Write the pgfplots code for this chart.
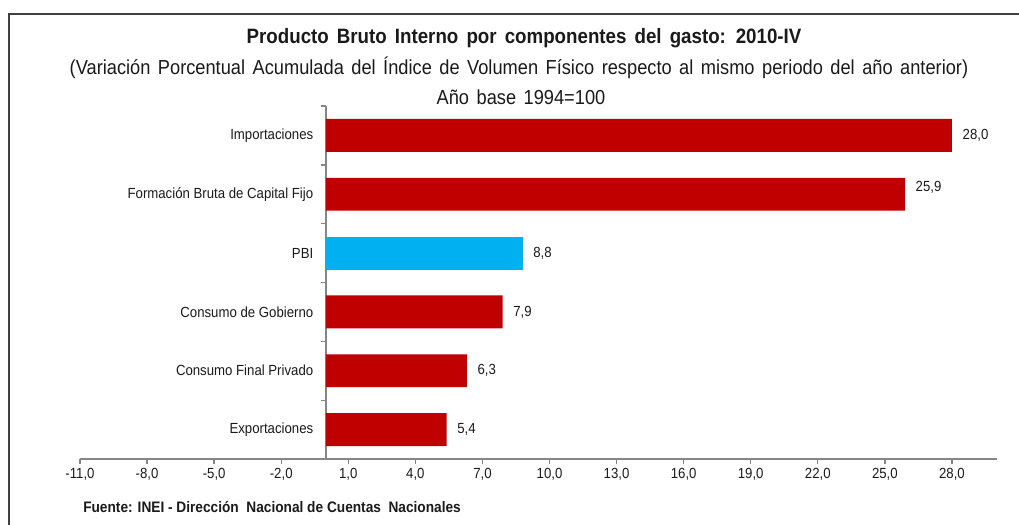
\documentclass[border=0pt]{standalone}
\usepackage{pgfplots}
\pgfplotsset{compat=1.18}
\usepackage{pgfplotstable}
\usepackage{fontspec}
\setmainfont{Liberation Sans}[FakeStretch=0.9]
\definecolor{barred}{HTML}{C00000}
\definecolor{barblue}{HTML}{00B0F0}
\definecolor{axisgray}{HTML}{868686}
\definecolor{txt}{HTML}{1A1A1A}

% posicion  valor  desplazamiento de etiqueta (pt)
\pgfplotstableread{
pos val dy
0 5.4 0
1 6.3 0
2 7.9 0
4 25.9 5.25
5 28.0 0
}\redbars
\pgfplotstableread{
pos val dy
3 8.8 0
}\bluebars

\begin{document}
\begin{tikzpicture}
\useasboundingbox (0,0) rectangle (764.25pt,393pt);
% marco
\draw[black!75, line width=1pt] (6.75pt,-5pt) -- (6.75pt,382.5pt) -- (770pt,382.5pt);

\begin{axis}[
    at={(60pt,48.75pt)}, anchor=south west,
    width=687.5pt, height=264.75pt, scale only axis,
    xbar, bar width=0.56, bar shift=0pt,
    xmin=-11, xmax=30, ymin=-0.5, ymax=5.5,
    axis x line=bottom, axis y line=middle,
    axis line style={axisgray, line width=1pt, -},
    tick style={axisgray, line width=1pt},
    tick align=outside,
    major tick length=3.75pt, minor tick length=3.75pt,
    xtick={-11,-8,...,28},
    ytick={0,...,5},
    minor ytick={-0.5,0.5,...,5.5},
    major y tick style={draw=none},
    yticklabels={Exportaciones, Consumo Final Privado, Consumo de Gobierno, PBI, Formación Bruta de Capital Fijo, Importaciones},
    yticklabel style={xshift=-2.25pt},
    hide obscured y ticks=false,
    /pgf/number format/.cd, fixed, fixed zerofill, precision=1, use comma, assume math mode=true,
    /pgfplots/.cd,
    tick label style={font=\fontsize{11}{13}\selectfont, text=txt},
    point meta=x,
    nodes near coords={\pgfmathprintnumber[fixed,fixed zerofill,precision=1,use comma,assume math mode=true]{\pgfplotspointmeta}},
    visualization depends on={\thisrow{dy} \as \dy},
    nodes near coords style={anchor=west, xshift=4.5pt, yshift=\dy pt, font=\fontsize{11}{13}\selectfont, text=txt},
    clip=false,
]
\addplot[fill=barred, draw=none] table[x=val, y=pos] {\redbars};
\addplot[fill=barblue, draw=none] table[x=val, y=pos] {\bluebars};
\end{axis}

\node[font=\bfseries\fontsize{15.6}{18}\selectfont, text=txt] at (393pt,364.5pt) {\spaceskip=0.39em Producto Bruto Interno por componentes del gasto: 2010-IV};
\node[font=\fontsize{15.2}{17}\selectfont, text=txt] at (389.25pt,342pt) {\spaceskip=0.37em (Variación Porcentual Acumulada del Índice de Volumen Físico respecto al mismo periodo del año anterior)};
\node[font=\fontsize{15.2}{17}\selectfont, text=txt] at (390.75pt,320.25pt) {\spaceskip=0.37em Año base 1994=100};
\node[font=\bfseries\fontsize{11.4}{13}\selectfont, text=txt, anchor=west, inner sep=0pt] at (62.25pt,12.75pt) {Fuente: INEI - Dirección\ \ Nacional de Cuentas\ \ Nacionales};
\end{tikzpicture}
\end{document}
